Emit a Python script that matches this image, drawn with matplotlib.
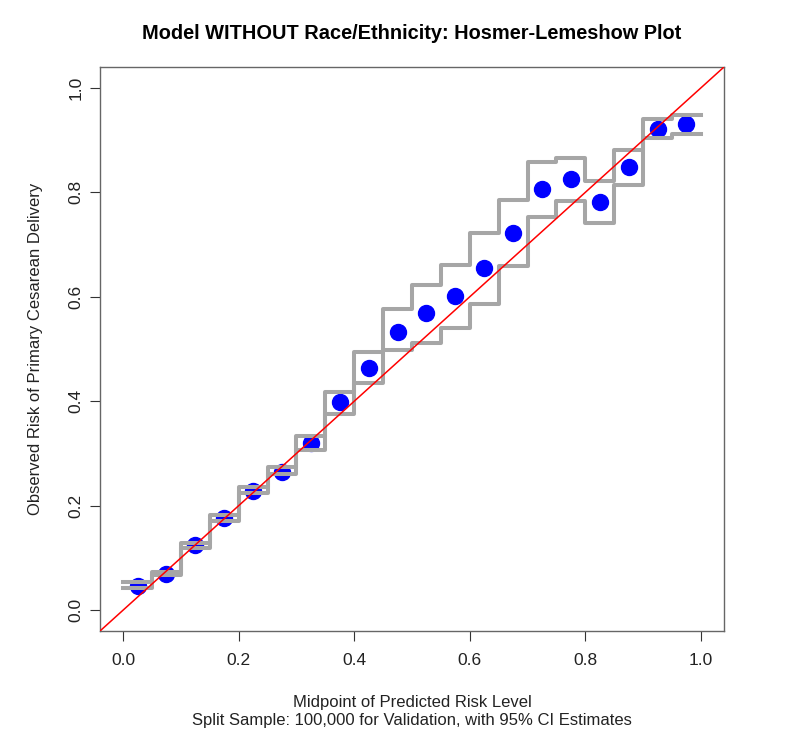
import numpy as np
import matplotlib
matplotlib.use('Agg')
import matplotlib.pyplot as plt

plt.rcParams['font.family'] = ['Liberation Sans', 'DejaVu Sans']

# midpoints of predicted risk bins and observed risk
midpoint = [0.025, 0.075, 0.125, 0.175, 0.225, 0.275, 0.325, 0.375, 0.425, 0.475,
            0.525, 0.575, 0.625, 0.675, 0.725, 0.775, 0.825, 0.875, 0.925, 0.975]
observed = [0.047, 0.070, 0.124, 0.177, 0.229, 0.265, 0.320, 0.398, 0.464, 0.533,
            0.569, 0.601, 0.655, 0.723, 0.806, 0.825, 0.782, 0.848, 0.921, 0.931]

# 95% CI per bin (drawn as steps over the bin edges)
bin_edges = [0.0, 0.05, 0.10, 0.15, 0.20, 0.25, 0.30, 0.35, 0.40, 0.45, 0.50,
             0.55, 0.60, 0.65, 0.70, 0.75, 0.80, 0.85, 0.90, 0.95, 1.0]
ci_upper = [0.054, 0.073, 0.129, 0.183, 0.235, 0.275, 0.333, 0.417, 0.494, 0.576,
            0.623, 0.660, 0.722, 0.786, 0.859, 0.866, 0.821, 0.881, 0.940, 0.948]
ci_lower = [0.042, 0.067, 0.119, 0.171, 0.225, 0.260, 0.307, 0.375, 0.434, 0.498,
            0.512, 0.541, 0.587, 0.658, 0.753, 0.783, 0.741, 0.815, 0.904, 0.912]

ticks = [0.0, 0.2, 0.4, 0.6, 0.8, 1.0]
tick_labels = ['0.0', '0.2', '0.4', '0.6', '0.8', '1.0']

fig = plt.figure(figsize=(8, 7.4), dpi=100)
ax = fig.add_axes([0.125, 1 - 631 / 740, 0.78, 564 / 740])

ax.plot(midpoint, observed, 'o', color='#0000ff', markersize=11.5, zorder=2)

up = list(ci_upper) + [ci_upper[-1]]
lo = list(ci_lower) + [ci_lower[-1]]
ax.step(bin_edges, up, where='post', color='#a6a6a6', lw=2.9, zorder=3)
ax.step(bin_edges, lo, where='post', color='#a6a6a6', lw=2.9, zorder=3)

ax.axline((0, 0), slope=1, color='#ff0000', lw=1.1, zorder=4)

ax.set_xlim(-0.04, 1.04)
ax.set_ylim(-0.04, 1.04)
ax.set_xticks(ticks)
ax.set_xticklabels(tick_labels)
ax.set_yticks(ticks)
ax.set_yticklabels(tick_labels, rotation=90, va='center')
ax.tick_params(direction='out', length=7, width=0.8, colors='#333333',
               labelsize=12.5, labelcolor='#222222')
ax.tick_params(axis='x', pad=9)
ax.tick_params(axis='y', pad=5)
for s in ax.spines.values():
    s.set_color('#666666')
    s.set_linewidth(1.0)

ax.set_title('Model WITHOUT Race/Ethnicity: Hosmer-Lemeshow Plot',
             fontsize=14.4, fontweight='bold', pad=20)
ax.set_xlabel('Midpoint of Predicted Risk Level\n'
              'Split Sample: 100,000 for Validation, with 95% CI Estimates',
              fontsize=12, labelpad=19, linespacing=1.25, color='#222222')
ax.set_ylabel('Observed Risk of Primary Cesarean Delivery',
              fontsize=12, labelpad=18, color='#222222')

fig.savefig('out.png', dpi=100)
